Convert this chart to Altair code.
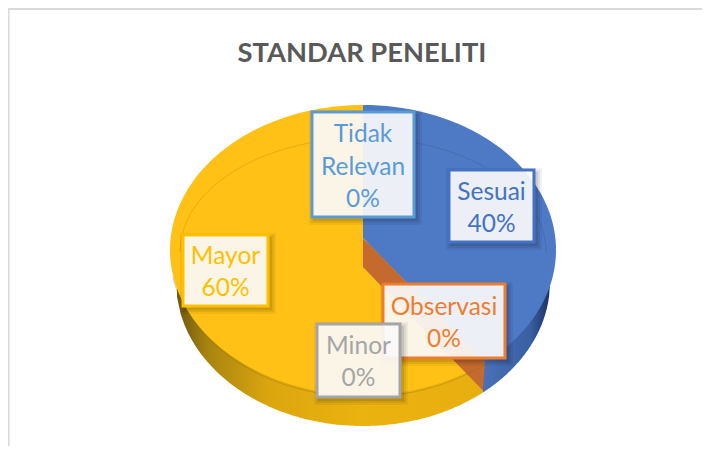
import math
import altair as alt
import pandas as pd

# ---- chart values ----
categories = ["Sesuai", "Observasi", "Minor", "Mayor", "Tidak Relevan"]
percent = [40, 0, 0, 60, 0]
title_text = "STANDAR PENELITI"
label_lines = [["Sesuai", "40%"], ["Observasi", "0%"], ["Minor", "0%"], ["Mayor", "60%"], ["Tidak", "Relevan", "0%"]]
label_colors = ["#4472C4", "#ED7D31", "#A5A5A5", "#FFC000", "#5B9BD5"]

# ---- layout (page pixels) ----
W, H = 694, 438
CX, CY, RX, RY = 363, 250, 193, 145
BCY, BRX, BRY = 282, 187, 144
APEX_TOP, APEX_LOW = 238, 267
PERSPECTIVE = 0.978
FONT = "Lato"
label_boxes = [(449, 534, 170, 242), (383, 505, 284, 358), (317, 400, 324, 397), (183, 268, 235, 306), (312, 414, 112, 217)]
label_line_y = [[193, 225], [308, 340], [347, 379], [257, 289], [135, 168, 200]]

xs = alt.Scale(domain=[8, 8 + W], nice=False, zero=False)
ys = alt.Scale(domain=[8 + H, 8], nice=False, zero=False)
X = lambda f="x": alt.X(f"{f}:Q", scale=xs, axis=None)
Y = lambda f="y": alt.Y(f"{f}:Q", scale=ys, axis=None)


def rim(angle):
    a = math.radians(angle)
    return CX + RX * math.sin(a), CY - RY * math.cos(a)


def polygon(points, fill):
    df = pd.DataFrame({"x": [p[0] for p in points], "y": [p[1] for p in points], "o": range(len(points))})
    return alt.Chart(df).mark_line(fill=fill, strokeWidth=0, interpolate="linear").encode(
        x=X(), y=Y(), order="o:Q")


def wall(x0, x1, stops):
    n = 80
    rows = []
    for i in range(n + 1):
        x = x0 + (x1 - x0) * i / n
        t = max(0.0, 1 - ((x - CX) / BRX) ** 2)
        rows.append({"x": x, "y": BCY + BRY * math.sqrt(t), "y2": BCY - 40})
    grad = alt.Gradient(gradient="linear", x1=0, x2=1, y1=0, y2=0,
                        stops=[alt.GradientStop(offset=o, color=c) for o, c in stops])
    return alt.Chart(pd.DataFrame(rows)).mark_area(color=grad).encode(
        x=X(), y=Y(), y2="y2:Q")


end_angle = percent[0] / sum(percent) * 360 * PERSPECTIVE
steps = 120
blue_arc = [rim(end_angle * i / steps) for i in range(steps + 1)]
yellow_arc = [rim(end_angle + (360 - end_angle) * i / steps) for i in range(steps + 1)]
ex, ey = blue_arc[-1]
low_x, low_y = ex - 2, ey + 28

split = wall(CX - BRX + 1, ex - 2, [(0, "#6E5710"), (0.1, "#A8840F"), (0.3, "#DBA50F"), (0.6, "#EBB30F"), (1, "#E8AE10")])
split_b = wall(ex - 2, CX + BRX, [(0, "#4A70B8"), (0.7, "#3A5FA3"), (1, "#1A3260")])
yellow_face = polygon(yellow_arc + [(CX, CY - RY), (CX, APEX_LOW)], "#FFC115")
blue_face = polygon(blue_arc + [(CX, APEX_TOP)], "#4E79C4")
cut_face = polygon([(CX, APEX_TOP), (CX, APEX_LOW), (low_x, low_y), (ex, ey)], "#C46A2E")

inner = pd.DataFrame([{"x": CX + 183 * math.sin(math.radians(a)), "y": 252 - 114 * math.cos(math.radians(a)), "o": a}
                      for a in range(-90, 91, 3)])
inner_line = alt.Chart(inner).mark_line(stroke="#000000", strokeOpacity=0.1, strokeWidth=1).encode(
    x=X(), y=Y(), order="o:Q")
rim_pts = pd.DataFrame([{"x": rim(a)[0], "y": rim(a)[1] + 2, "o": a} for a in range(int(end_angle), 262, 3)])
rim_line = alt.Chart(rim_pts).mark_line(stroke="#8A6D10", strokeOpacity=0.35, strokeWidth=1).encode(
    x=X(), y=Y(), order="o:Q")

layers = [split, split_b, yellow_face, blue_face, cut_face, inner_line, rim_line]

# border of the chart frame
frame_top = alt.Chart(pd.DataFrame({"x": [8], "x2": [8 + W], "y": [9]})).mark_rule(stroke="#DADADA", strokeWidth=2).encode(
    x=X(), x2="x2:Q", y=Y())
frame_left = alt.Chart(pd.DataFrame({"x": [8.5], "y": [9], "y2": [8 + H]})).mark_rule(stroke="#DADADA", strokeWidth=2).encode(
    x=X(), y=Y(), y2="y2:Q")
layers += [frame_top, frame_left]

# label boxes with soft shadows, then text
for box, lines, ly, col in zip(label_boxes, label_lines, label_line_y, label_colors):
    x0, x1, y0, y1 = box
    for grow, op in [(5, 0.05), (3, 0.07), (1, 0.09)]:
        sh = pd.DataFrame({"x": [x0 + 2 - grow], "x2": [x1 + 3 + grow], "y": [y0 + 3 - grow], "y2": [y1 + 3 + grow]})
        layers.append(alt.Chart(sh).mark_rect(fill="#000000", fillOpacity=op).encode(
            x=X(), x2="x2:Q", y=Y(), y2="y2:Q"))
    df = pd.DataFrame({"x": [x0], "x2": [x1], "y": [y0], "y2": [y1]})
    layers.append(alt.Chart(df).mark_rect(fill="#FFFFFF", fillOpacity=0.9, stroke=col, strokeWidth=3).encode(
        x=X(), x2="x2:Q", y=Y(), y2="y2:Q"))
    tdf = pd.DataFrame({"x": [(x0 + x1) / 2] * len(lines), "y": ly, "t": lines})
    layers.append(alt.Chart(tdf).mark_text(font=FONT, fontSize=24.5, color=col, align="center", baseline="middle").encode(
        x=X(), y=Y(), text="t:N"))

chart = alt.layer(*layers).properties(
    width=W, height=H, padding=0,
    autosize=alt.AutoSizeParams(type="none"),
    background="#FFFFFF",
    title=alt.TitleParams(title_text, font=FONT, fontSize=27.3, fontWeight="bold", color="#595959",
                          anchor="middle", dx=7, dy=59, offset=0),
).configure_view(stroke=None)

chart.save("out.html", embed_options={"renderer": "svg", "actions": False})
